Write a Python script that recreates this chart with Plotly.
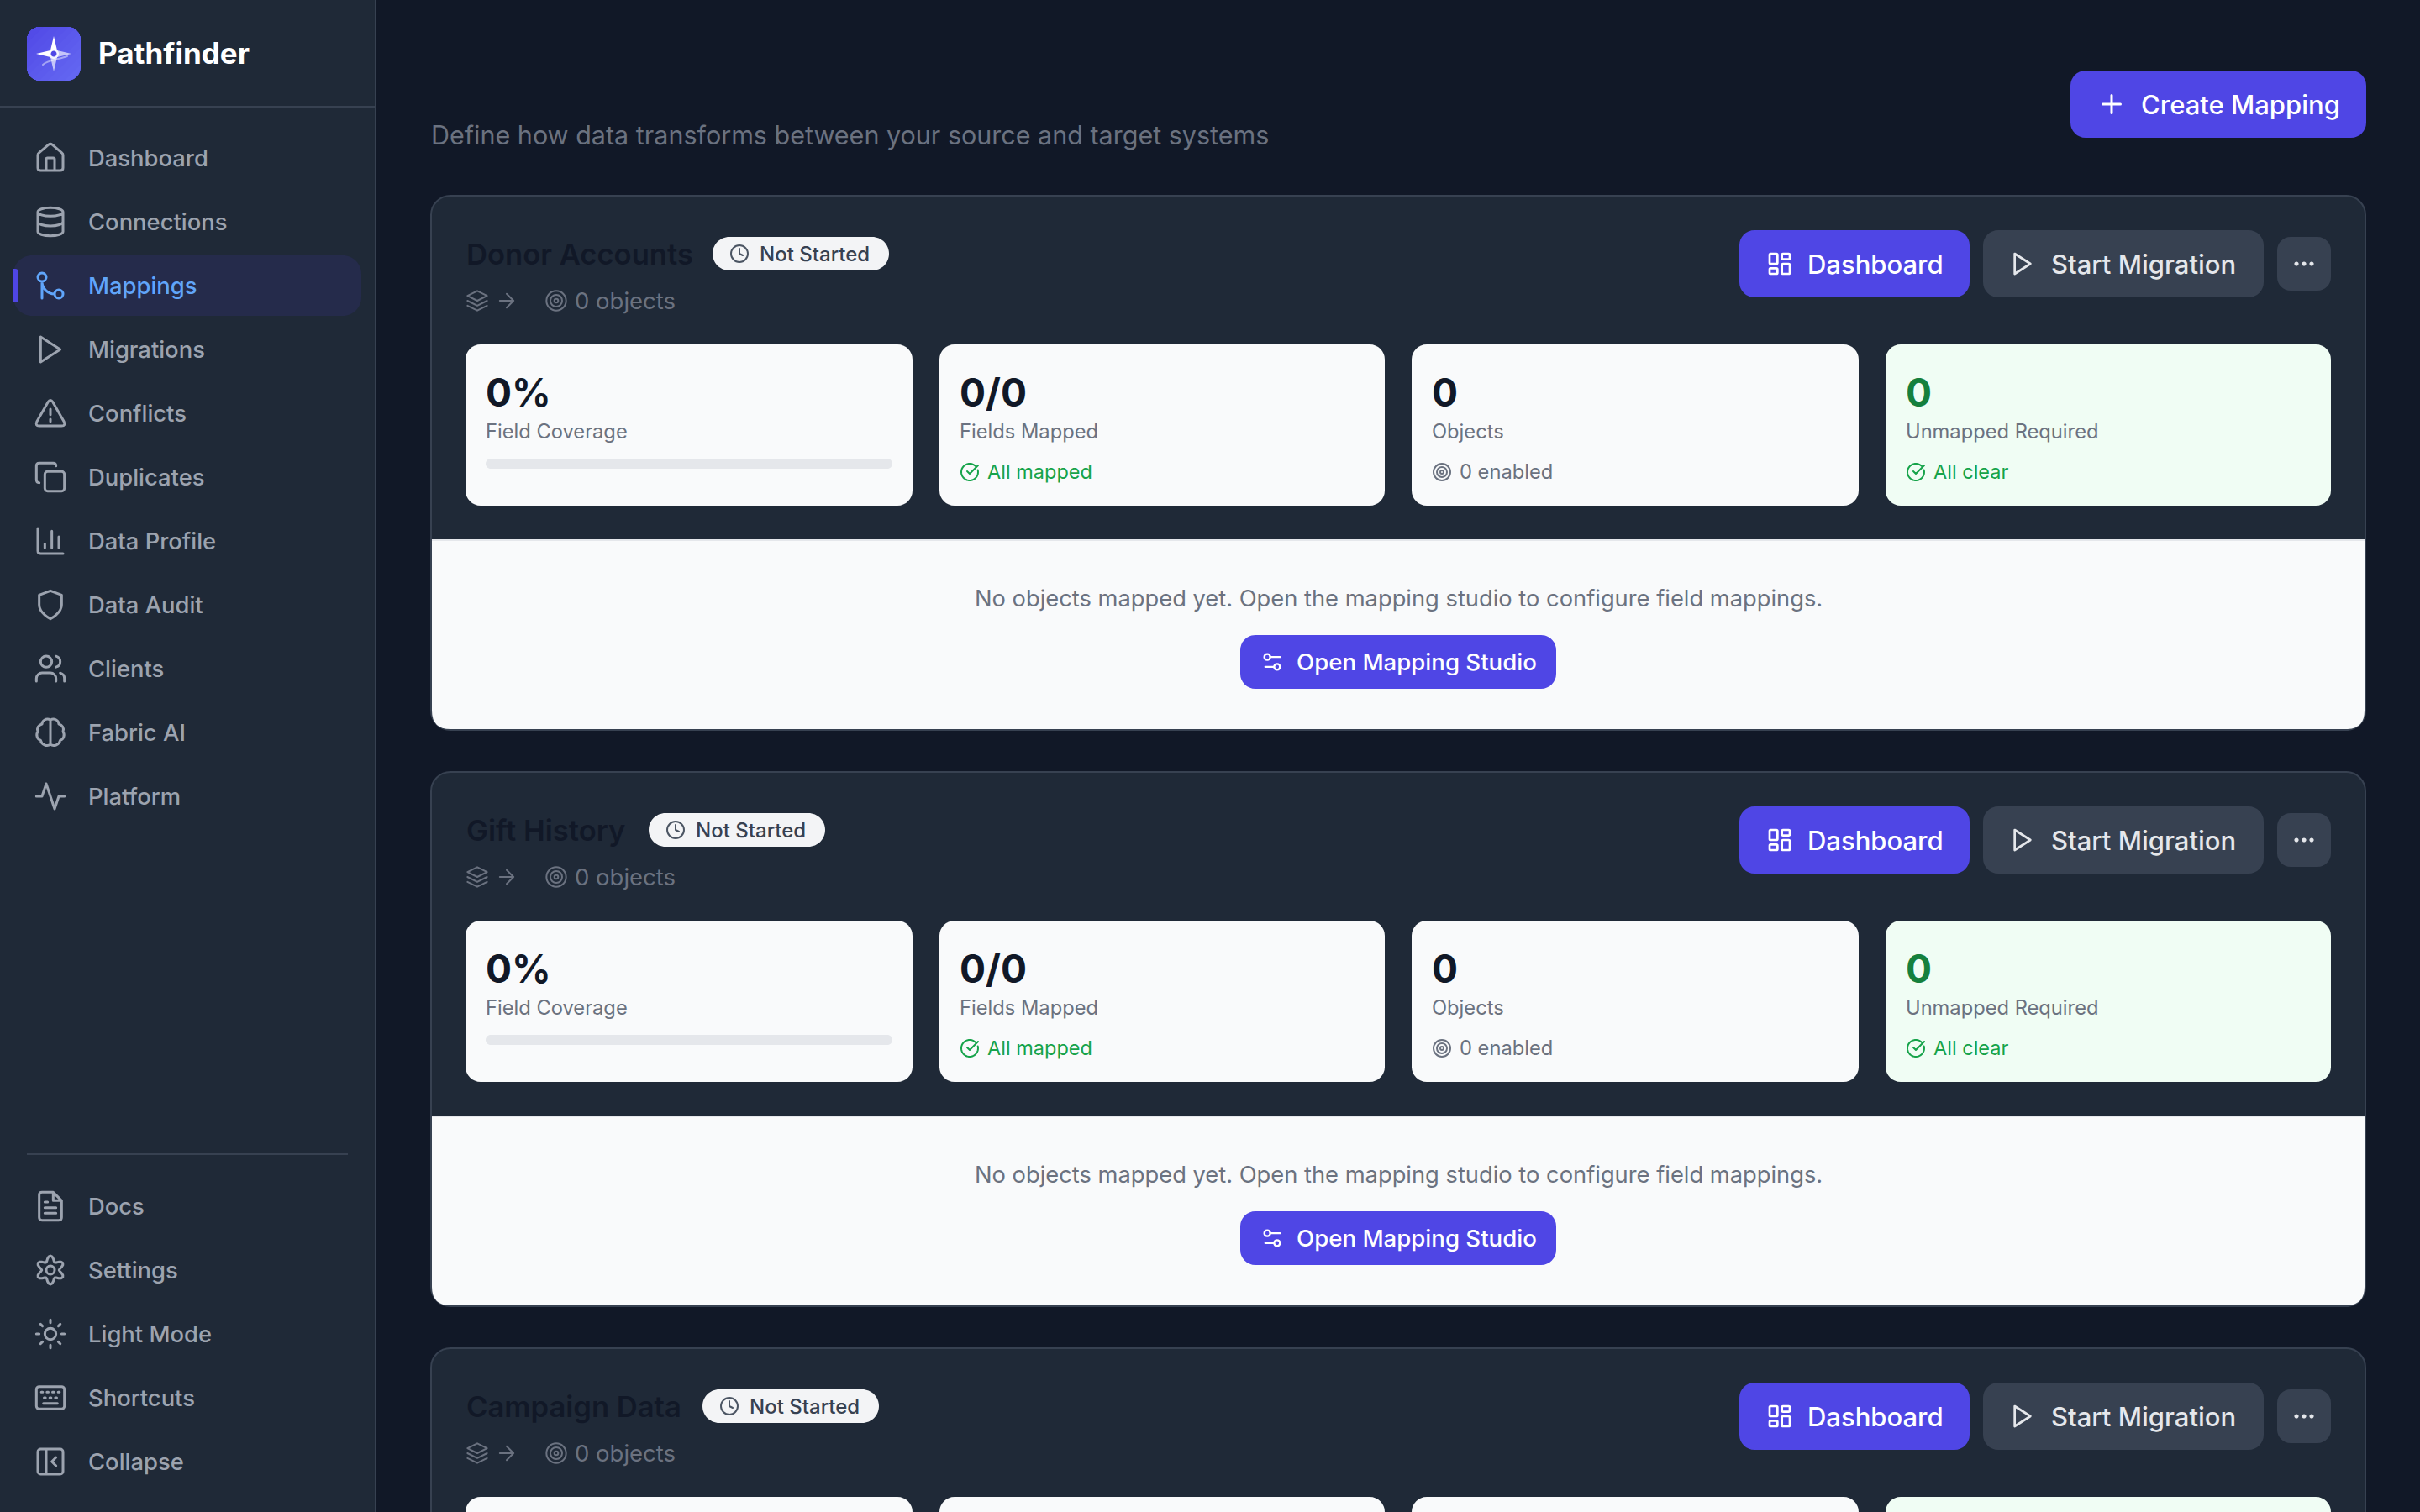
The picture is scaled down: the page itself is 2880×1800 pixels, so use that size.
import math
import re
import plotly.graph_objects as go

# sidebar
APP_NAME = "Pathfinder"
NAV_TOP = ["Dashboard", "Connections", "Mappings", "Migrations", "Conflicts", "Duplicates",
           "Data Profile", "Data Audit", "Clients", "Fabric AI", "Platform"]
NAV_BOTTOM = ["Docs", "Settings", "Light Mode", "Shortcuts", "Collapse"]
ACTIVE_NAV = "Mappings"

# page
SUBTITLE = "Define how data transforms between your source and target systems"
CREATE_LABEL = "Create Mapping"

# mapping cards
MAPPING_NAMES = ["Donor Accounts", "Gift History", "Campaign Data"]
BADGE_LEFT = [848, 772, 836]
STATUS = "Not Started"
OBJECT_COUNT = "0 objects"
STAT_VALUES = ["0%", "0/0", "0", "0"]
STAT_LABELS = ["Field Coverage", "Fields Mapped", "Objects", "Unmapped Required"]
STAT_NOTES = ["", "All mapped", "0 enabled", "All clear"]
EMPTY_TEXT = "No objects mapped yet. Open the mapping studio to configure field mappings."
STUDIO_LABEL = "Open Mapping Studio"

BG = "#111827"
PANEL = "#1f2937"
BORDER = "#374151"
INDIGO = "#4f46e5"
GREY = "#9ca3af"
MUTED = "#6b7280"
GREEN = "#16a34a"
LIGHT = "#f9fafb"
FONT = "Inter"
KAPPA = 0.5523
TILE_LEFT = [554, 1118, 1680, 2244]
TILE_RIGHT = [1086, 1648, 2212, 2774]

shapes = []
notes = []


def rrect(x0, y0, x1, y1, r):
    c = r * (1 - KAPPA)
    return (f"M{x0 + r} {y0}L{x1 - r} {y0}C{x1 - c} {y0} {x1} {y0 + c} {x1} {y0 + r}"
            f"L{x1} {y1 - r}C{x1} {y1 - c} {x1 - c} {y1} {x1 - r} {y1}"
            f"L{x0 + r} {y1}C{x0 + c} {y1} {x0} {y1 - c} {x0} {y1 - r}"
            f"L{x0} {y0 + r}C{x0} {y0 + c} {x0 + c} {y0} {x0 + r} {y0}Z")


def circ(cx, cy, r):
    k = r * KAPPA
    return (f"M{cx + r} {cy}C{cx + r} {cy + k} {cx + k} {cy + r} {cx} {cy + r}"
            f"C{cx - k} {cy + r} {cx - r} {cy + k} {cx - r} {cy}"
            f"C{cx - r} {cy - k} {cx - k} {cy - r} {cx} {cy - r}"
            f"C{cx + k} {cy - r} {cx + r} {cy - k} {cx + r} {cy}Z")


def arc(cx, cy, r, a0, a1, steps=32):
    pts = []
    for i in range(steps + 1):
        a = math.radians(a0 + (a1 - a0) * i / steps)
        pts.append(f"{cx + r * math.cos(a):.2f} {cy + r * math.sin(a):.2f}")
    return "M" + "L".join(pts)


def gear():
    pts = []
    for i in range(48):
        a = math.radians(i * 7.5)
        r = 8.2 + 2.0 * math.cos(6 * a)
        pts.append(f"{12 + r * math.sin(a):.2f} {12 - r * math.cos(a):.2f}")
    return "M" + "L".join(pts) + "Z"


ICONS = {
    "Dashboard": "M15 21V13Q15 12 14 12H10Q9 12 9 13V21M3 10Q3 9 3.7 8.5L10.7 2.5Q12 1.5 13.3 2.5L20.3 8.5Q21 9 21 10V19Q21 21 19 21H5Q3 21 3 19Z",
    "Connections": "M21 5C21 6.66 17 8 12 8C7 8 3 6.66 3 5C3 3.34 7 2 12 2C17 2 21 3.34 21 5ZM3 5V19C3 20.66 7 22 12 22C17 22 21 20.66 21 19V5M3 12C3 13.66 7 15 12 15C17 15 21 13.66 21 12",
    "Mappings": circ(18, 18, 3) + circ(6, 6, 3) + "M6 21V9C6 14 10 18 15 18",
    "Migrations": "M5 3L19 12L5 21Z",
    "Conflicts": "M21.73 18L13.73 4Q12 1.5 10.27 4L2.27 18Q1 21 4 21H20Q23 21 21.73 18ZM12 9V13M12 16.2V17.8",
    "Duplicates": rrect(8, 8, 22, 22, 2) + "M4 16Q2 16 2 14V4Q2 2 4 2H14Q16 2 16 4",
    "Data Profile": "M3 3V19Q3 21 5 21H21M18 17V9M13 17V5M8 17V14",
    "Data Audit": "M12 22C12 22 20 18 20 12V5L12 2L4 5V12C4 18 12 22 12 22Z",
    "Clients": "M16 21V19C16 16.8 14.2 15 12 15H6C3.8 15 2 16.8 2 19V21M22 21V19C22 17.2 20.8 15.6 19 15.1M16 3.1C17.8 3.6 19 5.2 19 7C19 8.8 17.8 10.4 16 10.9" + circ(9, 7, 4),
    "Fabric AI": "M12 3C9 1.5 6 3.5 6 6C3.5 6.5 2 9 3 11.5C1.5 13.5 2.5 17 5 17.5C5.5 20.5 9.5 22.5 12 20.5C14.5 22.5 18.5 20.5 19 17.5C21.5 17 22.5 13.5 21 11.5C22 9 20.5 6.5 18 6C18 3.5 15 1.5 12 3ZM12 3V20.5",
    "Platform": "M22 12H18L15 21L9 3L6 12H2",
    "Docs": "M14 2H6Q4 2 4 4V20Q4 22 6 22H18Q20 22 20 20V8ZM14 2V8H20M16 13H8M16 17H8M10 9H8",
    "Settings": gear() + circ(12, 12, 3),
    "Light Mode": circ(12, 12, 4) + "M12 2V4M12 20V22M4.93 4.93L6.34 6.34M17.66 17.66L19.07 19.07M2 12H4M20 12H22M6.34 17.66L4.93 19.07M19.07 4.93L17.66 6.34",
    "Shortcuts": rrect(2, 4, 22, 20, 2) + "M5.5 8H6.5M9.5 8H10.5M13.5 8H14.5M17.5 8H18.5M7.5 12H8.5M11.5 12H12.5M15.5 12H16.5M7 16H17",
    "Collapse": rrect(3, 3, 21, 21, 2) + "M9 3V21M16 15L13 12L16 9",
    "layers": "M12 2L2 7L12 12L22 7ZM2 12L12 17L22 12M2 17L12 22L22 17",
    "arrow": "M5 12H19M12 5L19 12L12 19",
    "target": circ(12, 12, 10) + circ(12, 12, 6) + circ(12, 12, 2),
    "clock": circ(12, 12, 10) + "M12 6V12L16 14",
    "check": arc(12, 12, 10, -15, 315) + "M9 11L12 14L22 4",
    "grid": rrect(3, 3, 10, 12, 1) + rrect(14, 3, 21, 8, 1) + rrect(14, 12, 21, 21, 1) + rrect(3, 16, 10, 21, 1),
    "sliders": "M20 7H11M14 17H5" + circ(17, 17, 3) + circ(7, 7, 3),
    "plus": "M5 12H19M12 5V19",
}


def box(path, fill, line=None, width=0, opacity=1):
    shapes.append(dict(type="path", path=path, fillcolor=fill, opacity=opacity, xref="x", yref="y",
                       line=dict(color=line or "rgba(0,0,0,0)", width=width)))


def icon(name, cx, cy, size, color, stroke=None):
    k = size / 24
    out = []
    for cmd, nums in re.findall(r"([MLHVQCZ])([^MLHVQCZ]*)", ICONS[name]):
        vals = [float(v) for v in nums.split()]
        if cmd == "H":
            vals = [cx + (v - 12) * k for v in vals]
        elif cmd == "V":
            vals = [cy + (v - 12) * k for v in vals]
        else:
            vals = [(cx if i % 2 == 0 else cy) + (v - 12) * k for i, v in enumerate(vals)]
        out.append(cmd + " ".join(f"{v:.2f}" for v in vals))
    box("".join(out), "rgba(0,0,0,0)", color, stroke or 2 * k)


def text(x, y, s, size, color, weight=400, anchor="left"):
    notes.append(dict(x=x, y=y, text=s, showarrow=False, xref="x", yref="y", xanchor=anchor, yanchor="middle",
                      borderpad=0, font=dict(family=FONT, size=size, color=color, weight=weight)))


def clip_halfplane(pts, c):
    kept = []
    for i, (x, y) in enumerate(pts):
        px, py = pts[i - 1]
        d0, d1 = px + py - c, x + y - c
        if (d0 <= 0) != (d1 <= 0):
            t = d0 / (d0 - d1)
            kept.append((px + (x - px) * t, py + (y - py) * t))
        if d1 <= 0:
            kept.append((x, y))
    return kept


def draw_logo():
    x0, y0, x1, y1, r = 32, 32, 96, 96, 16
    outline = []
    for cx, cy, start in [(x1 - r, y0 + r, -90), (x1 - r, y1 - r, 0), (x0 + r, y1 - r, 90), (x0 + r, y0 + r, 180)]:
        for i in range(13):
            a = math.radians(start + i * 7.5)
            outline.append((cx + r * math.cos(a), cy + r * math.sin(a)))
    box(rrect(x0, y0, x1, y1, r), INDIGO)
    bands = 12
    for b in range(bands):
        # lighter towards the top left corner
        t = (bands - b) / bands
        col = f"rgb({79 + round(20 * t)},{70 + round(32 * t)},{229 + round(12 * t)})"
        c = 64 + 128 * (bands - b) / (bands + 1)
        pts = clip_halfplane(outline, c)
        if pts:
            box("M" + "L".join(f"{x:.1f} {y:.1f}" for x, y in pts) + "Z", col)
    box("M64 43L68 60L64 64L60 60ZM43 64L60 60L64 64L60 68Z", "#ffffff")
    box("M64 85L60 68L64 64L68 68ZM85 64L68 68L64 64L68 60Z", "#ffffff", opacity=0.65)
    box("M51 77C56 72 68 71 80 67", "rgba(0,0,0,0)", "#ffffff", 2, opacity=0.45)
    box(circ(64, 64, 6), "#ffffff", opacity=0.8)
    box(circ(64, 64, 3.5), INDIGO)


def draw_sidebar():
    box(rrect(-4, -4, 446, 1804, 0.01), PANEL)
    box("M446 0H448V1800H446Z", BORDER)
    box("M0 126H446V128H0Z", BORDER)
    box("M32 1373H414V1375H32Z", BORDER)
    draw_logo()
    text(116, 63, APP_NAME, 35, "#ffffff", 700)
    box(rrect(16, 304, 430, 376, 22), "#252b4b")
    box("M16 320H18Q22 320 22 324V356Q22 360 18 360H16Z", INDIGO)
    for names, first in [(NAV_TOP, 188), (NAV_BOTTOM, 1436)]:
        for i, name in enumerate(names):
            y = first + i * 76
            col = "#60a5fa" if name == ACTIVE_NAV else GREY
            icon(name, 60, y, 40, col, 3)
            text(104, y, name, 27.4, col, 500)


def button(x0, x1, y0, y1, fill, label, ic, cx, tx, size, col, isz=32, stroke=2.7):
    box(rrect(x0, y0, x1, y1, 18), fill)
    icon(ic, cx, (y0 + y1) / 2, isz, col, stroke)
    text(tx, (y0 + y1) / 2, label, size, col, 500)


def draw_card(name, badge_x, top):
    box(rrect(513, top + 1, 2815, top + 637, 23), PANEL, BORDER, 2)
    # header
    text(554, top + 70, name, 34.6, "#111827", 600)
    box(rrect(badge_x, top + 50, badge_x + 210, top + 90, 20), "#f3f4f6")
    icon("clock", badge_x + 32, top + 70, 24, "#4b5563", 2)
    text(badge_x + 55, top + 70, STATUS, 24, "#374151", 500)
    icon("layers", 568, top + 126, 28, MUTED, 2)
    icon("arrow", 603, top + 126, 28, MUTED, 2)
    icon("target", 662, top + 126, 28, MUTED, 2)
    text(683, top + 126, OBJECT_COUNT, 27.5, MUTED)
    # actions
    button(2070, 2344, top + 42, top + 122, INDIGO, "Dashboard", "grid", 2118, 2150, 31, "#ffffff")
    button(2360, 2694, top + 42, top + 122, BORDER, "Start Migration", "Migrations", 2407, 2440, 31, "#e5e7eb")
    box(rrect(2710, top + 50, 2774, top + 114, 16), BORDER)
    for dx in (-9, 0, 9):
        box(circ(2742 + dx, top + 82, 2.6), "#e5e7eb")
    # stat tiles
    for i in range(4):
        x = TILE_LEFT[i]
        ty = top + 178
        box(rrect(x, ty, TILE_RIGHT[i], ty + 192, 18), "#f0fdf4" if i == 3 else LIGHT)
        if ty + 40 > 1800:
            continue
        text(x + 23, ty + 57, STAT_VALUES[i], 46, "#15803d" if i == 3 else "#111827", 700)
        text(x + 23, ty + 103, STAT_LABELS[i], 23.7, MUTED)
        if i == 0:
            box(rrect(x + 24, ty + 136, TILE_RIGHT[i] - 24, ty + 148, 6), "#e5e7eb")
        elif i == 2:
            icon("target", x + 36, ty + 152, 24, MUTED, 2)
            text(x + 56, ty + 151, STAT_NOTES[i], 23.7, MUTED)
        else:
            icon("check", x + 36, ty + 152, 24, GREEN, 2)
            text(x + 56, ty + 151, STAT_NOTES[i], 23.5, GREEN)
    # empty state
    if top + 480 < 1800:
        box(f"M514 {top + 412}H2814V{top + 614}Q2814 {top + 636} 2792 {top + 636}H536Q514 {top + 636} 514 {top + 614}Z", LIGHT)
        box(f"M514 {top + 410}H2814V{top + 412}H514Z", "#e5e7eb")
        text(1664, top + 480, EMPTY_TEXT, 27.3, MUTED, anchor="center")
        button(1476, 1852, top + 524, top + 588, INDIGO, STUDIO_LABEL, "sliders", 1514, 1542, 27.6, "#ffffff", 28, 2.4)


draw_sidebar()
text(512, 160, SUBTITLE, 30.5, MUTED)
button(2464, 2816, 84, 164, INDIGO, CREATE_LABEL, "plus", 2513, 2547, 31, "#ffffff", 36, 3)
for k, card_name in enumerate(MAPPING_NAMES):
    draw_card(card_name, BADGE_LEFT[k], 232 + k * 686)

fig = go.Figure()
fig.update_layout(
    width=2880, height=1800, margin=dict(l=0, r=0, t=0, b=0, pad=0),
    paper_bgcolor=BG, plot_bgcolor=BG, showlegend=False,
    xaxis=dict(range=[0, 2880], visible=False, fixedrange=True),
    yaxis=dict(range=[1800, 0], visible=False, fixedrange=True),
    shapes=shapes, annotations=notes,
)

# page css: no body margin, rounded stroke ends like the svg icons
css = ("var s=document.createElement('style');"
       "s.textContent='body{margin:0;overflow:hidden}.shapelayer path{stroke-linecap:round!important;stroke-linejoin:round!important}';"
       "document.head.appendChild(s);")
fig.write_html("out.html", post_script=css, config={"displayModeBar": False})
